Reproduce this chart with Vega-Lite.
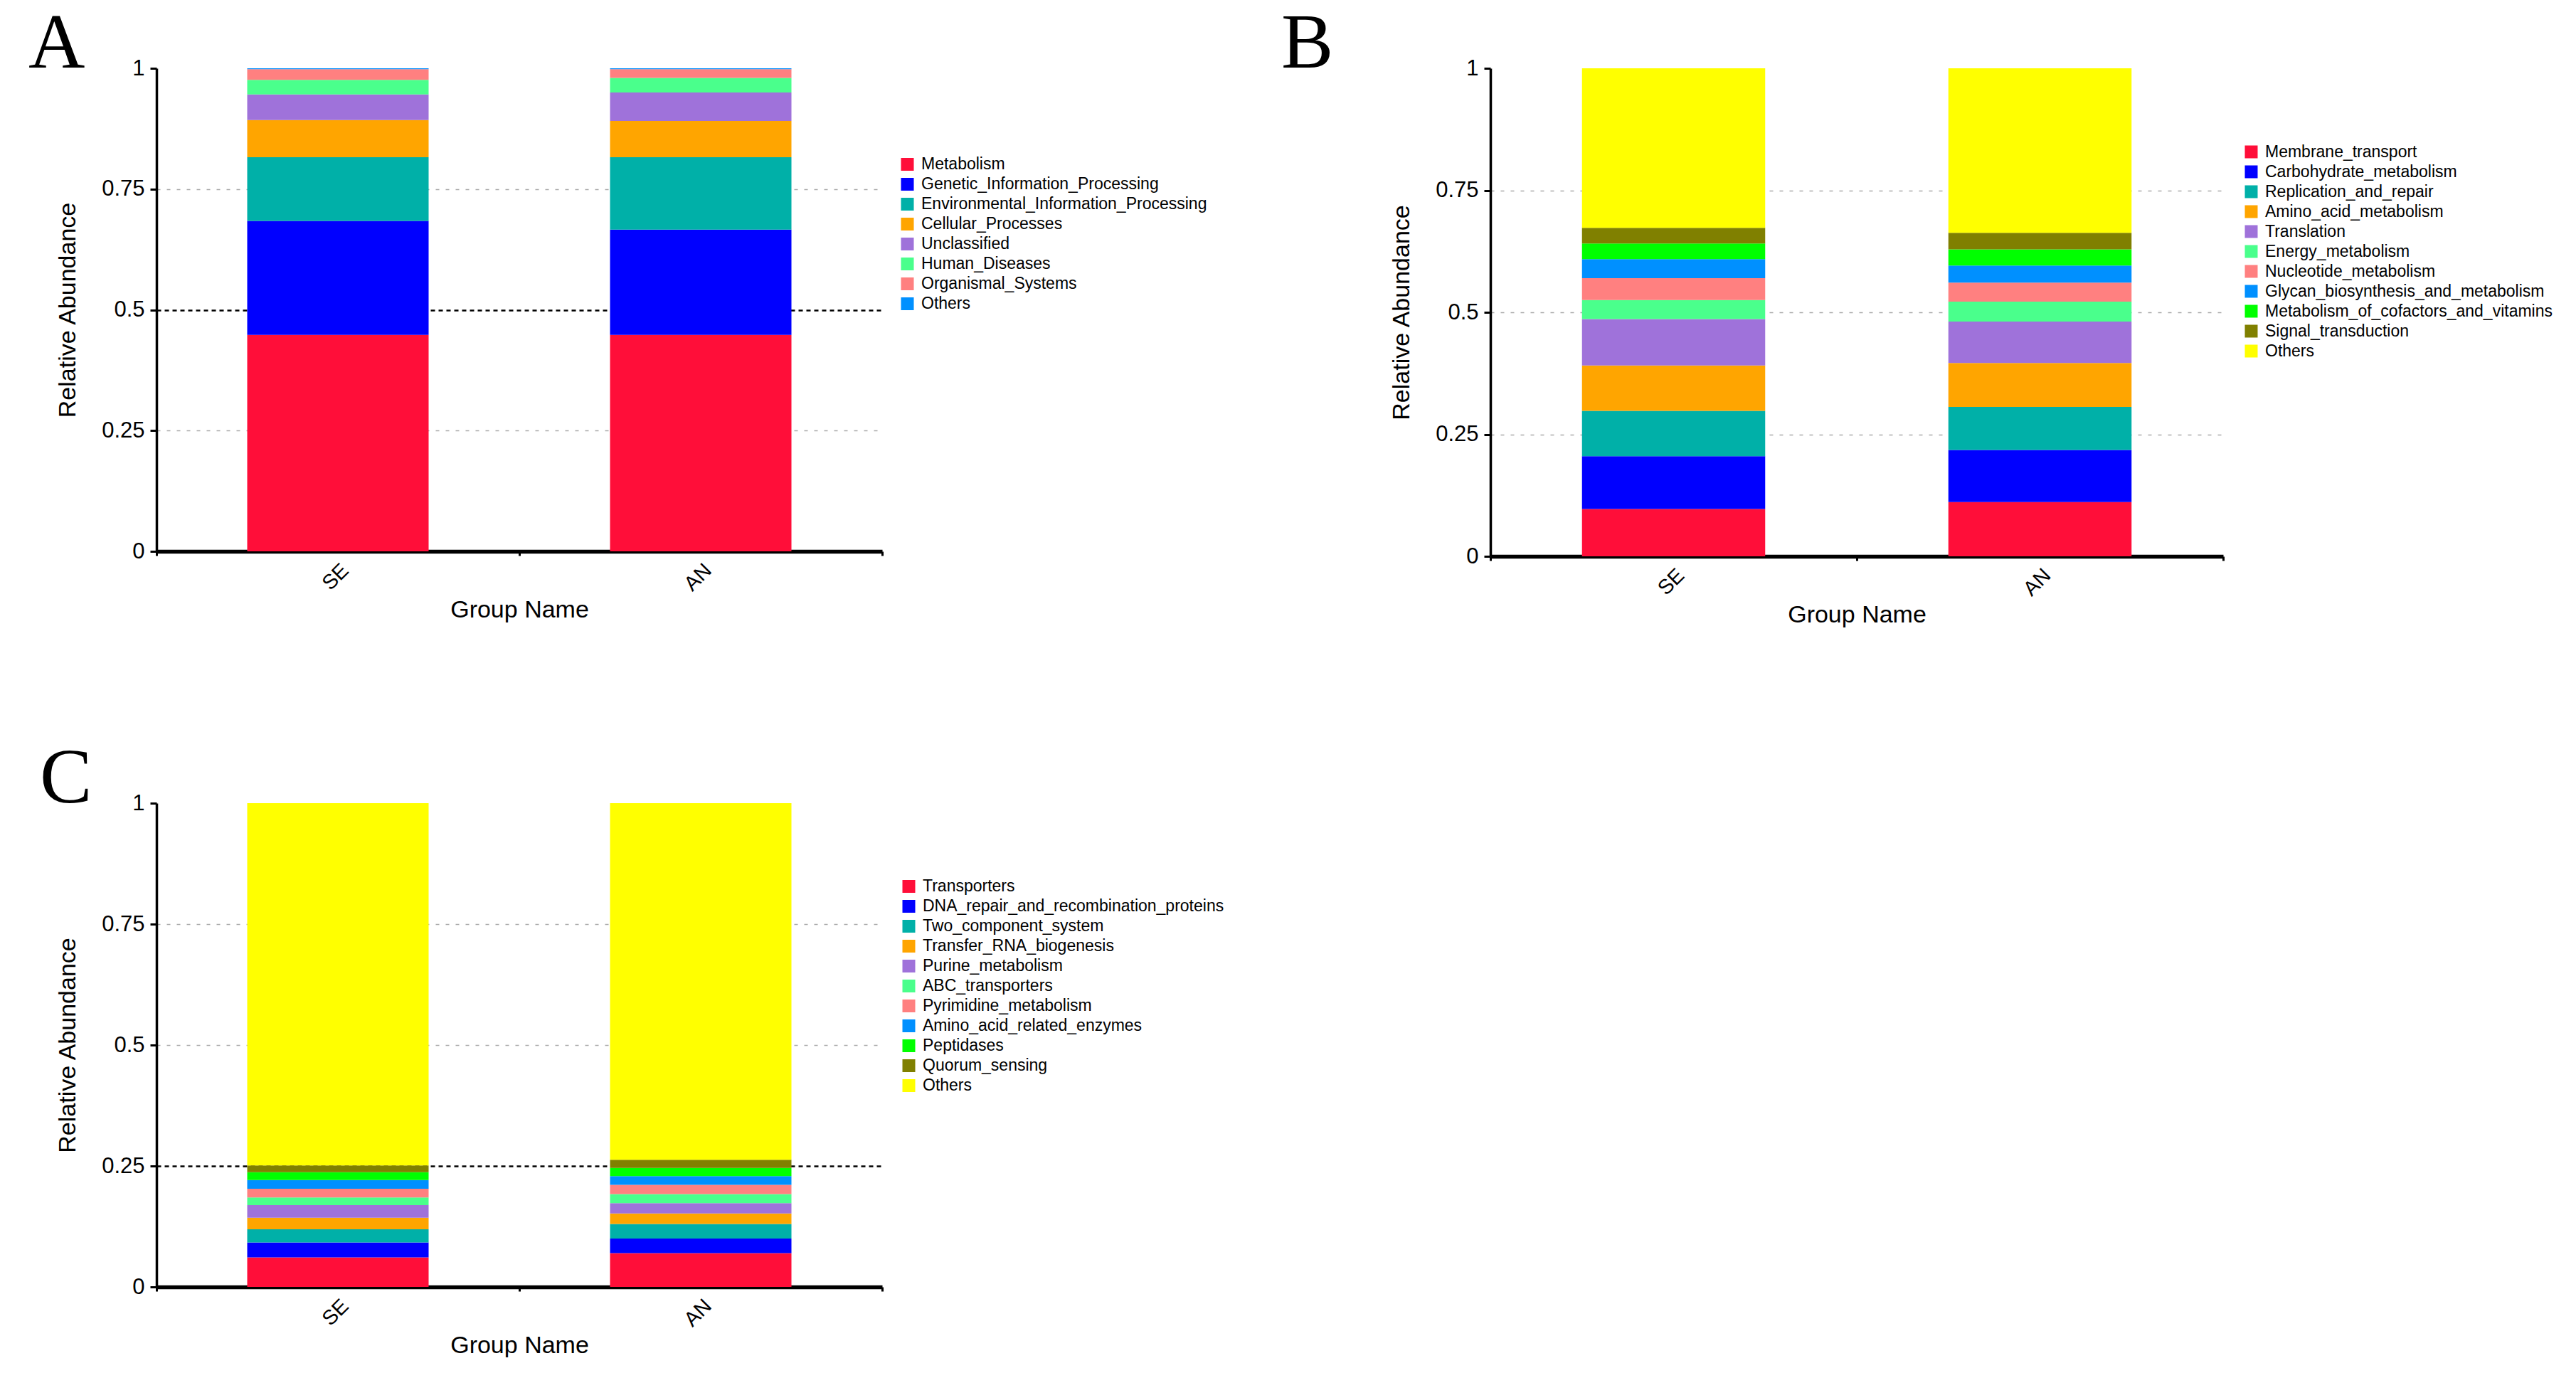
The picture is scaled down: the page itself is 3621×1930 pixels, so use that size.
{
  "$schema": "https://vega.github.io/schema/vega-lite/v6.json",
  "padding": {"left": 40, "top": 7, "right": 0, "bottom": 0},
  "autosize": {"type": "pad"},
  "background": "white",
  "columns": 2,
  "align": "none",
  "bounds": "full",
  "spacing": {"row": 159, "column": 80},
  "resolve": {"scale": {"color": "independent", "x": "independent", "y": "independent"}},
  "config": {
    "view": {"stroke": null},
    "font": "Liberation Sans",
    "axis": {"domainColor": "black", "tickColor": "black", "labelColor": "black", "titleColor": "black", "labelFont": "Liberation Sans", "titleFont": "Liberation Sans", "labelFontSize": 31, "titleFontSize": 34, "titleFontWeight": "normal"},
    "legend": {"labelFont": "Liberation Sans", "labelFontSize": 23, "labelColor": "black", "symbolType": "square", "symbolSize": 324, "symbolStrokeWidth": 0, "symbolOpacity": 1, "rowPadding": 4, "labelOffset": 8, "padding": 0, "labelLimit": 1000},
    "title": {"font": "Liberation Serif", "fontSize": 110, "fontWeight": "normal", "color": "black", "anchor": "start", "frame": "group", "offset": 0, "baseline": "alphabetic", "dy": 42}
  },
  "datasets": {
    "A": [
      {"group": "SE", "category": "Metabolism", "value": 0.448},
      {"group": "SE", "category": "Genetic_Information_Processing", "value": 0.236},
      {"group": "SE", "category": "Environmental_Information_Processing", "value": 0.132},
      {"group": "SE", "category": "Cellular_Processes", "value": 0.077},
      {"group": "SE", "category": "Unclassified", "value": 0.053},
      {"group": "SE", "category": "Human_Diseases", "value": 0.030},
      {"group": "SE", "category": "Organismal_Systems", "value": 0.022},
      {"group": "SE", "category": "Others", "value": 0.002},
      {"group": "AN", "category": "Metabolism", "value": 0.448},
      {"group": "AN", "category": "Genetic_Information_Processing", "value": 0.218},
      {"group": "AN", "category": "Environmental_Information_Processing", "value": 0.150},
      {"group": "AN", "category": "Cellular_Processes", "value": 0.075},
      {"group": "AN", "category": "Unclassified", "value": 0.059},
      {"group": "AN", "category": "Human_Diseases", "value": 0.030},
      {"group": "AN", "category": "Organismal_Systems", "value": 0.018},
      {"group": "AN", "category": "Others", "value": 0.002}
    ],
    "B": [
      {"group": "SE", "category": "Membrane_transport", "value": 0.097},
      {"group": "SE", "category": "Carbohydrate_metabolism", "value": 0.108},
      {"group": "SE", "category": "Replication_and_repair", "value": 0.093},
      {"group": "SE", "category": "Amino_acid_metabolism", "value": 0.093},
      {"group": "SE", "category": "Translation", "value": 0.095},
      {"group": "SE", "category": "Energy_metabolism", "value": 0.039},
      {"group": "SE", "category": "Nucleotide_metabolism", "value": 0.045},
      {"group": "SE", "category": "Glycan_biosynthesis_and_metabolism", "value": 0.039},
      {"group": "SE", "category": "Metabolism_of_cofactors_and_vitamins", "value": 0.032},
      {"group": "SE", "category": "Signal_transduction", "value": 0.032},
      {"group": "SE", "category": "Others", "value": 0.327},
      {"group": "AN", "category": "Membrane_transport", "value": 0.111},
      {"group": "AN", "category": "Carbohydrate_metabolism", "value": 0.107},
      {"group": "AN", "category": "Replication_and_repair", "value": 0.088},
      {"group": "AN", "category": "Amino_acid_metabolism", "value": 0.090},
      {"group": "AN", "category": "Translation", "value": 0.085},
      {"group": "AN", "category": "Energy_metabolism", "value": 0.041},
      {"group": "AN", "category": "Nucleotide_metabolism", "value": 0.039},
      {"group": "AN", "category": "Glycan_biosynthesis_and_metabolism", "value": 0.035},
      {"group": "AN", "category": "Metabolism_of_cofactors_and_vitamins", "value": 0.033},
      {"group": "AN", "category": "Signal_transduction", "value": 0.034},
      {"group": "AN", "category": "Others", "value": 0.337}
    ],
    "C": [
      {"group": "SE", "category": "Transporters", "value": 0.061},
      {"group": "SE", "category": "DNA_repair_and_recombination_proteins", "value": 0.031},
      {"group": "SE", "category": "Two_component_system", "value": 0.027},
      {"group": "SE", "category": "Transfer_RNA_biogenesis", "value": 0.024},
      {"group": "SE", "category": "Purine_metabolism", "value": 0.026},
      {"group": "SE", "category": "ABC_transporters", "value": 0.016},
      {"group": "SE", "category": "Pyrimidine_metabolism", "value": 0.018},
      {"group": "SE", "category": "Amino_acid_related_enzymes", "value": 0.018},
      {"group": "SE", "category": "Peptidases", "value": 0.016},
      {"group": "SE", "category": "Quorum_sensing", "value": 0.014},
      {"group": "SE", "category": "Others", "value": 0.749},
      {"group": "AN", "category": "Transporters", "value": 0.070},
      {"group": "AN", "category": "DNA_repair_and_recombination_proteins", "value": 0.030},
      {"group": "AN", "category": "Two_component_system", "value": 0.030},
      {"group": "AN", "category": "Transfer_RNA_biogenesis", "value": 0.022},
      {"group": "AN", "category": "Purine_metabolism", "value": 0.021},
      {"group": "AN", "category": "ABC_transporters", "value": 0.019},
      {"group": "AN", "category": "Pyrimidine_metabolism", "value": 0.019},
      {"group": "AN", "category": "Amino_acid_related_enzymes", "value": 0.018},
      {"group": "AN", "category": "Peptidases", "value": 0.017},
      {"group": "AN", "category": "Quorum_sensing", "value": 0.017},
      {"group": "AN", "category": "Others", "value": 0.737}
    ]
  },
  "concat": [
    {
      "data": {"name": "A"},
      "width": 1020,
      "height": 679,
      "title": {"text": "A", "dx": -180},
      "transform": [{"calculate": "indexof(['Metabolism','Genetic_Information_Processing','Environmental_Information_Processing','Cellular_Processes','Unclassified','Human_Diseases','Organismal_Systems','Others'], datum.category)", "as": "rank"}],
      "mark": {"type": "bar", "width": {"band": 0.5}},
      "encoding": {
        "x": {"field": "group", "type": "nominal", "sort": ["SE", "AN"], "scale": {"paddingInner": 0, "paddingOuter": 0},
          "axis": {"title": "Group Name", "labelAngle": -45, "labelFontSize": 29, "labelPadding": 6, "tickBand": "extent", "tickSize": 6, "tickWidth": 3, "domainWidth": 5.5, "titleX": 510, "titleY": 92, "titleBaseline": "alphabetic", "grid": false}},
        "y": {"field": "value", "type": "quantitative", "stack": "zero", "scale": {"domain": [0, 1], "nice": false},
          "axis": {"title": "Relative Abundance", "values": [0, 0.25, 0.5, 0.75, 1], "format": ".2~f", "domainWidth": 3.5, "tickWidth": 3, "tickSize": 9, "labelPadding": 8, "titleX": -115, "titleY": 339.5, "titleBaseline": "alphabetic", "titleAlign": "center",
            "grid": true,
            "gridColor": {"condition": {"test": "datum.value === 0.5", "value": "#000000"}, "value": "#AAAAAA"},
            "gridDash": {"condition": {"test": "datum.value === 0.5", "value": [6, 5]}, "value": [5, 9]},
            "gridWidth": {"condition": {"test": "datum.value === 0.5", "value": 2.5}, "value": 1.5},
            "gridOpacity": {"condition": {"test": "datum.value === 0 || datum.value === 1", "value": 0}, "value": 1}}},
        "color": {"field": "category", "type": "nominal",
          "scale": {"domain": ["Metabolism", "Genetic_Information_Processing", "Environmental_Information_Processing", "Cellular_Processes", "Unclassified", "Human_Diseases", "Organismal_Systems", "Others"],
            "range": ["#FF0E39", "#0000FF", "#00B0A8", "#FFA500", "#9F72DA", "#4AFF8C", "#FF8080", "#0090FF"]},
          "legend": {"title": null, "orient": "none", "legendX": 1044, "legendY": 123.5}},
        "order": {"field": "rank", "type": "quantitative"}
      }
    },
    {
      "data": {"name": "B"},
      "width": 1030,
      "height": 686,
      "title": {"text": "B", "dx": -294},
      "transform": [{"calculate": "indexof(['Membrane_transport','Carbohydrate_metabolism','Replication_and_repair','Amino_acid_metabolism','Translation','Energy_metabolism','Nucleotide_metabolism','Glycan_biosynthesis_and_metabolism','Metabolism_of_cofactors_and_vitamins','Signal_transduction','Others'], datum.category)", "as": "rank"}],
      "mark": {"type": "bar", "width": {"band": 0.5}},
      "encoding": {
        "x": {"field": "group", "type": "nominal", "sort": ["SE", "AN"], "scale": {"paddingInner": 0, "paddingOuter": 0},
          "axis": {"title": "Group Name", "labelAngle": -45, "labelFontSize": 29, "labelPadding": 6, "tickBand": "extent", "tickSize": 6, "tickWidth": 3, "domainWidth": 5.5, "titleX": 515, "titleY": 92, "titleBaseline": "alphabetic", "grid": false}},
        "y": {"field": "value", "type": "quantitative", "stack": "zero", "scale": {"domain": [0, 1], "nice": false},
          "axis": {"title": "Relative Abundance", "values": [0, 0.25, 0.5, 0.75, 1], "format": ".2~f", "domainWidth": 3.5, "tickWidth": 3, "tickSize": 9, "labelPadding": 8, "titleX": -115, "titleY": 343, "titleBaseline": "alphabetic", "titleAlign": "center",
            "grid": true,
            "gridColor": "#AAAAAA",
            "gridDash": [5, 9],
            "gridWidth": 1.5,
            "gridOpacity": {"condition": {"test": "datum.value === 0 || datum.value === 1", "value": 0}, "value": 1}}},
        "color": {"field": "category", "type": "nominal",
          "scale": {"domain": ["Membrane_transport", "Carbohydrate_metabolism", "Replication_and_repair", "Amino_acid_metabolism", "Translation", "Energy_metabolism", "Nucleotide_metabolism", "Glycan_biosynthesis_and_metabolism", "Metabolism_of_cofactors_and_vitamins", "Signal_transduction", "Others"],
            "range": ["#FF0E39", "#0000FF", "#00B0A8", "#FFA500", "#9F72DA", "#4AFF8C", "#FF8080", "#0090FF", "#00FF00", "#808000", "#FFFF00"]},
          "legend": {"title": null, "orient": "none", "legendX": 1058, "legendY": 106}},
        "order": {"field": "rank", "type": "quantitative"}
      }
    },
    {
      "data": {"name": "C"},
      "width": 1020,
      "height": 680,
      "title": {"text": "C", "dx": -164},
      "transform": [{"calculate": "indexof(['Transporters','DNA_repair_and_recombination_proteins','Two_component_system','Transfer_RNA_biogenesis','Purine_metabolism','ABC_transporters','Pyrimidine_metabolism','Amino_acid_related_enzymes','Peptidases','Quorum_sensing','Others'], datum.category)", "as": "rank"}],
      "mark": {"type": "bar", "width": {"band": 0.5}},
      "encoding": {
        "x": {"field": "group", "type": "nominal", "sort": ["SE", "AN"], "scale": {"paddingInner": 0, "paddingOuter": 0},
          "axis": {"title": "Group Name", "labelAngle": -45, "labelFontSize": 29, "labelPadding": 6, "tickBand": "extent", "tickSize": 6, "tickWidth": 3, "domainWidth": 5.5, "titleX": 510, "titleY": 92, "titleBaseline": "alphabetic", "grid": false}},
        "y": {"field": "value", "type": "quantitative", "stack": "zero", "scale": {"domain": [0, 1], "nice": false},
          "axis": {"title": "Relative Abundance", "values": [0, 0.25, 0.5, 0.75, 1], "format": ".2~f", "domainWidth": 3.5, "tickWidth": 3, "tickSize": 9, "labelPadding": 8, "titleX": -115, "titleY": 340, "titleBaseline": "alphabetic", "titleAlign": "center",
            "grid": true,
            "gridColor": {"condition": {"test": "datum.value === 0.25", "value": "#000000"}, "value": "#AAAAAA"},
            "gridDash": {"condition": {"test": "datum.value === 0.25", "value": [6, 5]}, "value": [5, 9]},
            "gridWidth": {"condition": {"test": "datum.value === 0.25", "value": 2.5}, "value": 1.5},
            "gridOpacity": {"condition": {"test": "datum.value === 0 || datum.value === 1", "value": 0}, "value": 1}}},
        "color": {"field": "category", "type": "nominal",
          "scale": {"domain": ["Transporters", "DNA_repair_and_recombination_proteins", "Two_component_system", "Transfer_RNA_biogenesis", "Purine_metabolism", "ABC_transporters", "Pyrimidine_metabolism", "Amino_acid_related_enzymes", "Peptidases", "Quorum_sensing", "Others"],
            "range": ["#FF0E39", "#0000FF", "#00B0A8", "#FFA500", "#9F72DA", "#4AFF8C", "#FF8080", "#0090FF", "#00FF00", "#808000", "#FFFF00"]},
          "legend": {"title": null, "orient": "none", "legendX": 1046, "legendY": 105.5}},
        "order": {"field": "rank", "type": "quantitative"}
      }
    }
  ]
}
